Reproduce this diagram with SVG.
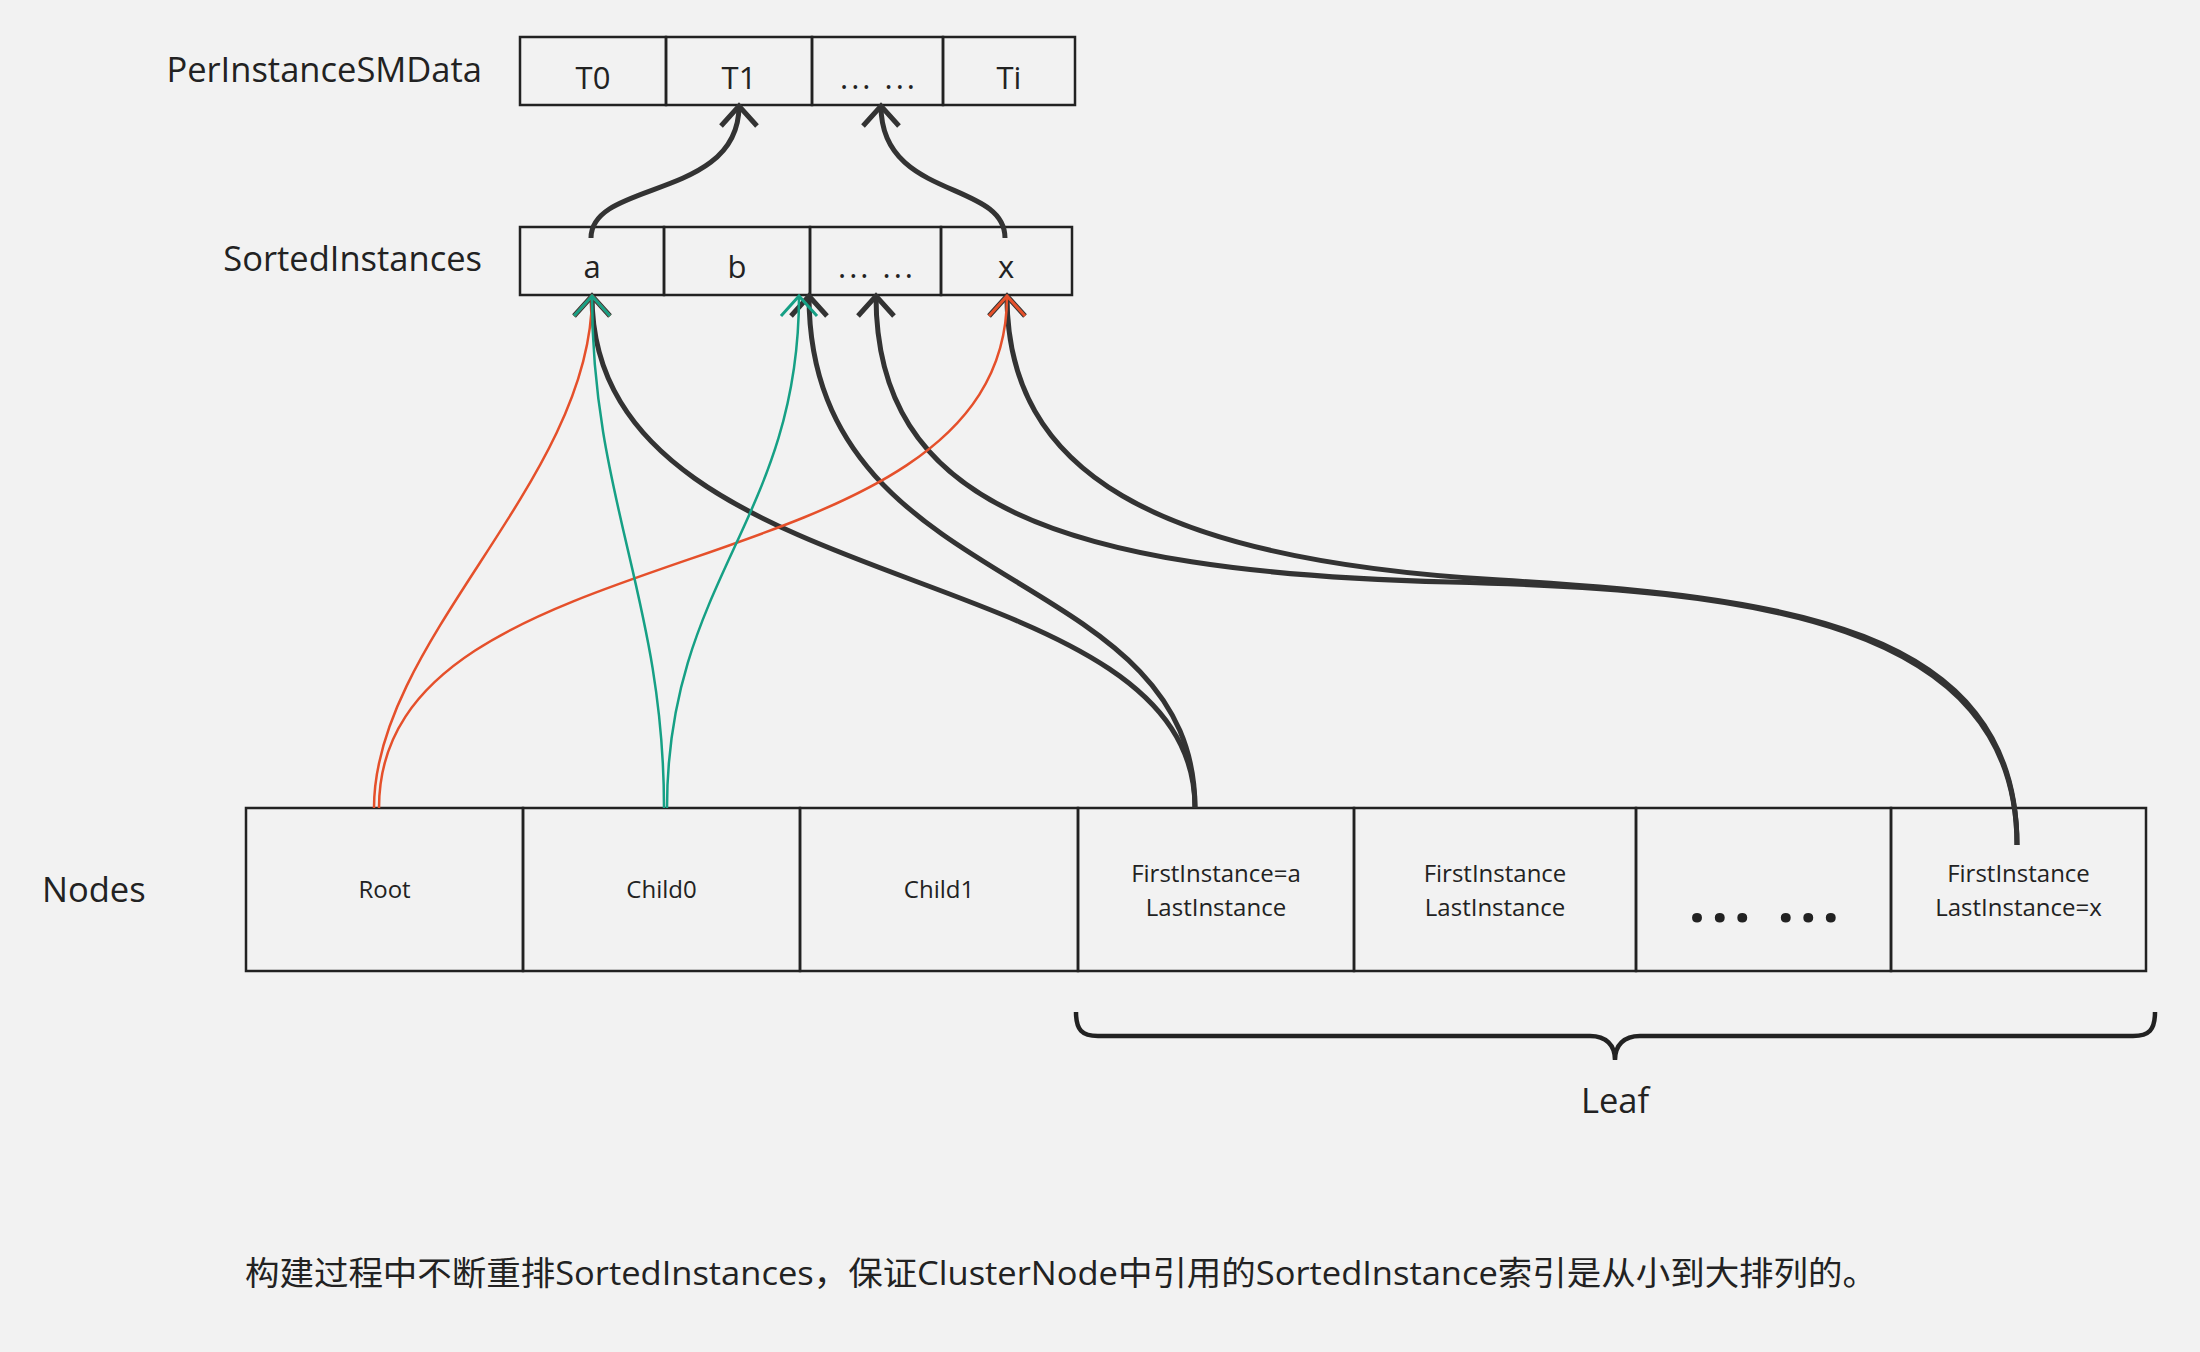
<svg xmlns="http://www.w3.org/2000/svg" width="2200" height="1352" viewBox="0 0 2200 1352">
<defs>
<style>
.bg{fill:#f2f2f2}
.cell{fill:none;stroke:#222;stroke-width:2.5}
.lbl{font-family:"Open Sans","Noto Sans",sans-serif;font-size:34.5px;fill:#222}
.ct{font-family:"Open Sans","Noto Sans",sans-serif;font-size:31px;fill:#222;text-anchor:middle}
.nt{font-family:"Open Sans","Noto Sans",sans-serif;font-size:24px;fill:#222;text-anchor:middle}
.k{fill:none;stroke:#333;stroke-width:5}
.r{fill:none;stroke:#e5502b;stroke-width:2.5}
.g{fill:none;stroke:#16a085;stroke-width:2.5}
</style>
<marker id="ak" markerUnits="userSpaceOnUse" viewBox="-30 -30 60 60" markerWidth="60" markerHeight="60" refX="0" refY="0" orient="auto" overflow="visible">
<path d="M-20,-18 L0,0 L-20,18" fill="none" stroke="#333" stroke-width="5"/>
</marker>
<marker id="ar" markerUnits="userSpaceOnUse" viewBox="-30 -30 60 60" markerWidth="60" markerHeight="60" refX="0" refY="0" orient="auto" overflow="visible">
<path d="M-20,-18 L0,0 L-20,18" fill="none" stroke="#e5502b" stroke-width="3"/>
</marker>
<marker id="ag" markerUnits="userSpaceOnUse" viewBox="-30 -30 60 60" markerWidth="60" markerHeight="60" refX="0" refY="0" orient="auto" overflow="visible">
<path d="M-20,-18 L0,0 L-20,18" fill="none" stroke="#16a085" stroke-width="3"/>
</marker>
</defs>
<rect class="bg" x="0" y="0" width="2200" height="1352"/>

<text class="lbl" x="482" y="82" text-anchor="end">PerInstanceSMData</text>
<text class="lbl" x="482" y="271" text-anchor="end">SortedInstances</text>
<text class="lbl" x="42" y="902">Nodes</text>

<g id="per-instance">
<g id="pi-t0"><rect class="cell" x="520" y="37" width="146" height="68"/><text class="ct" x="593" y="89">T0</text></g>
<g id="pi-t1"><rect class="cell" x="666" y="37" width="146" height="68"/><text class="ct" x="739" y="89">T1</text></g>
<g id="pi-dots"><rect class="cell" x="812" y="37" width="131" height="68"/><text class="ct" x="879" y="89" letter-spacing="3">... ...</text></g>
<g id="pi-ti"><rect class="cell" x="943" y="37" width="132" height="68"/><text class="ct" x="1009" y="89">Ti</text></g>
</g>

<g id="sorted-instances">
<g id="si-a"><rect class="cell" x="520" y="227" width="144" height="68"/><text class="ct" x="592" y="278">a</text></g>
<g id="si-b"><rect class="cell" x="664" y="227" width="146" height="68"/><text class="ct" x="737" y="278">b</text></g>
<g id="si-dots"><rect class="cell" x="810" y="227" width="131" height="68"/><text class="ct" x="877" y="278" letter-spacing="3">... ...</text></g>
<g id="si-x"><rect class="cell" x="941" y="227" width="131" height="68"/><text class="ct" x="1006" y="278">x</text></g>
</g>

<g id="nodes">
<g id="n-root"><rect class="cell" x="246" y="808" width="277" height="163"/><text class="nt" x="384.5" y="898">Root</text></g>
<g id="n-child0"><rect class="cell" x="523" y="808" width="277" height="163"/><text class="nt" x="661.5" y="898">Child0</text></g>
<g id="n-child1"><rect class="cell" x="800" y="808" width="278" height="163"/><text class="nt" x="939" y="898">Child1</text></g>
<g id="n-leaf-a"><rect class="cell" x="1078" y="808" width="276" height="163"/><text class="nt" x="1216" y="882">FirstInstance=a</text><text class="nt" x="1216" y="916">LastInstance</text></g>
<g id="n-leaf"><rect class="cell" x="1354" y="808" width="282" height="163"/><text class="nt" x="1495" y="882">FirstInstance</text><text class="nt" x="1495" y="916">LastInstance</text></g>
<g id="n-dots"><rect class="cell" x="1636" y="808" width="255" height="163"/><text x="1767" y="922" text-anchor="middle" font-family="Open Sans, sans-serif" font-weight="bold" font-size="58" letter-spacing="6" fill="#222">... ...</text></g>
<g id="n-leaf-x"><rect class="cell" x="1891" y="808" width="255" height="163"/><text class="nt" x="2018.5" y="882">FirstInstance</text><text class="nt" x="2018.5" y="916">LastInstance=x</text></g>
</g>

<g id="leaf-brace">
<path d="M1076,1012 C1076,1030 1082,1036 1098,1036 L1590,1036 C1606,1036 1615,1045 1615,1060 C1615,1045 1624,1036 1640,1036 L2133,1036 C2149,1036 2155,1030 2155,1012" fill="none" stroke="#222" stroke-width="4.5"/>
<text class="lbl" x="1615" y="1113" text-anchor="middle">Leaf</text>
</g>

<g id="connectors">
<path class="k" d="M591,238 C591,180 739,200 739,106" marker-end="url(#ak)"/>
<path class="k" d="M1005,238 C1005,180 881,200 881,106" marker-end="url(#ak)"/>
<path class="k" d="M1195,808 C1195,550 592,610 592,296" marker-end="url(#ak)"/>
<path class="k" d="M1195,808 C1195,560 809,600 809,296" marker-end="url(#ak)"/>
<path class="k" d="M2017,845 C2017,620 1750,589.5 1450,582 C1050,572 876,500 876,296" marker-end="url(#ak)"/>
<path class="k" d="M2017,845 C2017,625 1780,597 1500,580 C1150,560 1007,470 1007,296" marker-end="url(#ak)"/>
<path class="r" d="M374,808 C374,640 592,480 592,296" marker-end="url(#ar)"/>
<path class="r" d="M379,808 C379,520 1007,600 1007,296" marker-end="url(#ar)"/>
<path class="g" d="M664,808 C664,600 592,500 592,296" marker-end="url(#ag)"/>
<path class="g" d="M667,808 C667,580 799,520 799,296" marker-end="url(#ag)"/>
</g>

<text x="245" y="1285" font-family="Open Sans, Noto Sans CJK SC, sans-serif" font-size="33" fill="#222" textLength="1632" lengthAdjust="spacingAndGlyphs">构建过程中不断重排SortedInstances，保证ClusterNode中引用的SortedInstance索引是从小到大排列的。</text>
</svg>
